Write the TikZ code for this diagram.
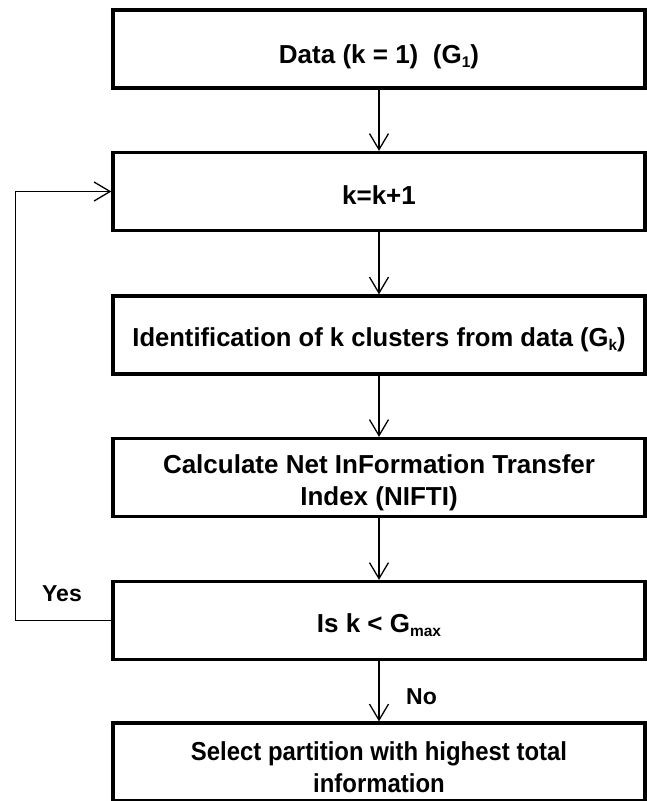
\documentclass[tikz,border=0pt]{standalone}
\usepackage{fontspec}
\setmainfont{Liberation Sans}
\newfontfamily\narrowfont{Liberation Sans}[FakeStretch=0.92]
\newfontfamily\slimfont{Liberation Sans}[FakeStretch=0.984]
\usetikzlibrary{arrows.meta}

% lowered small subscript for text set in the boxes
\newcommand{\lowsub}[1]{\raisebox{-0.32ex}{\fontsize{15.5}{15.5}\selectfont #1}}
% invisible struts that fix the height of the first line and the depth of the last
\newcommand{\toprule}[1]{\rule{0pt}{#1}}
\newcommand{\botrule}[1]{\rule[-#1]{0pt}{#1}}

\tikzset{
  stepbox/.style={draw, line width=3.3pt, fill=white, minimum width=532pt,
    minimum height=78pt, inner sep=0pt, align=center,
    font=\fontsize{26}{32}\selectfont\bfseries},
  conn/.style={line width=1.3pt, -{Straight Barb[length=16pt,width=19pt,line width=1.3pt]}},
  tag/.style={inner sep=0pt, font=\fontsize{23}{23}\selectfont\bfseries}
}

\begin{document}
\begin{tikzpicture}[x=1pt,y=-1pt]
  \useasboundingbox (0,0) rectangle (647,801);

  % process boxes
  \node[stepbox, text height=34pt, text depth=6pt] (b1) at (379,49)
    {Data (k = 1)\ \ (G\lowsub{1})};
  \node[stepbox, text height=31pt, text depth=6pt] (b2) at (379,191.5)
    {k=k+1};
  \node[stepbox, text height=28pt, text depth=6pt,
        font=\fontsize{26}{32}\selectfont\slimfont\bfseries] (b3) at (379,335)
    {Identification of k clusters from data (G\lowsub{k})};
  \node[stepbox] (b4) at (379,477.5)
    {\toprule{29pt}Calculate Net InFormation Transfer\\Index (NIFTI)\botrule{6pt}};
  \node[stepbox, text height=30pt, text depth=6pt] (b5) at (379,620.5)
    {Is k < G\lowsub{max}};
  \node[stepbox, font=\fontsize{26}{32}\selectfont\narrowfont\bfseries] (b6) at (379,762)
    {\toprule{35pt}Select partition with highest total\\information\botrule{6pt}};

  % main flow
  \draw[conn] (b1) -- (b2);
  \draw[conn] (b2) -- (b3);
  \draw[conn] (b3) -- (b4);
  \draw[conn] (b4) -- (b5);
  \draw[conn] (b5) -- (b6);

  % loop back while k is below the maximum
  \coordinate (lx) at (15.5,0);
  \draw[conn] (b5.west) -- (b5.west -| lx) |- (b2.west);

  % branch labels
  \node[tag] (yes) at (62,594) {Yes};
  \node[tag, anchor=west] (no) at (406,697) {No};
\end{tikzpicture}
\end{document}
